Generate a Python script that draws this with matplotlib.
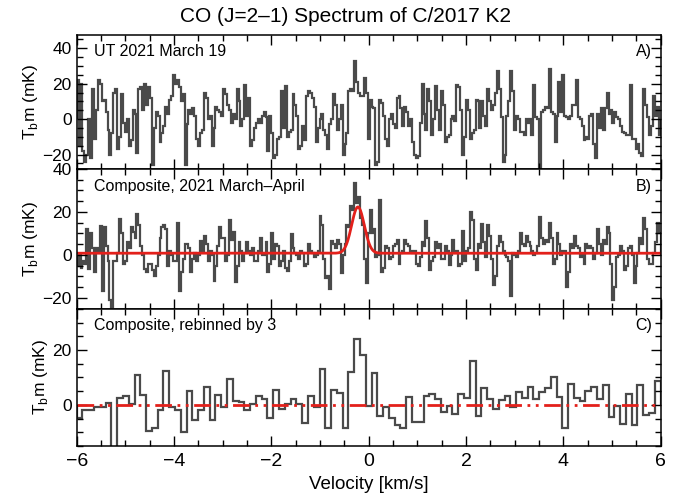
import numpy as np
import matplotlib
matplotlib.use("Agg")
import matplotlib.pyplot as plt
from matplotlib.ticker import MultipleLocator

plt.rcParams["font.family"] = ["Liberation Sans", "DejaVu Sans"]

# channel data (mK), channels evenly spaced over -6..6 km/s
march19 = [
    22, -15, 20, -18, -24, -20, 0, -22, 17, -11, 5, 22, 20, 10, 11, 4,
    -6, -20, -8, 15, 17, -17, -10, 14, -2, -7, 0, -15, -12, 5, 3, -19,
    17, 18, 5, 20, 8, 18, 12, -26, -5, 4, 2, -13, -8, -4, 7, 3,
    11, 13, 25, 20, 22, 18, 10, 14, -26, -3, 5, 3, 6, 2, -11, -15,
    -8, -6, 15, 12, 0, 2, -15, -5, 7, 5, 4, 2, 17, 14, 8, 5,
    -2, 3, 0, 17, 10, -4, 0, 19, 2, 12, -15, -12, -5, -2, 0, -2,
    2, 4, 1, -18,
    2, -8, -22, -20, -11, -10, 16, -5, 18.5, -10, -7, -6, 14, 8, 2, -17,
    -15, -4, -12, 13, 16, 15, 12, 7, -13, -5, 0, 3, -6, -9, -17, -3,
    0, 14, 8, -6, 0, 8, -20, -14, -8, 16, 17, 16, 33, 21, 15, 13,
    13, 23, 15, -11, 11, 7, 6, -26, -24, 11, 9, 2, -11, -15, 0, 3,
    -3, -5, 12, 13, 6, -4, 7, 4, -4, 0, -13, -20, -22, -21, -2, 20,
    3, -6, 17, 10, -9, 0, 18.5, 5, -6, 16, 8, -13, -10, -9, 0, 2,
    -1, 19, 18, 5, -20,
    -10, 11, 5, -11, -8, -6, 11, 10, -5, 10, 2, -4, 17, 10, 5, 8,
    15, 27, 17, 1, -24, -20, 2, 10, 27, 16, -6, 2, 0, -7, -7, -9,
    0, -2, 0, -9, 19, 1, 0, -28, 4, 5, 7, 6, 28, 4, 3, -13,
    2, 21, 4, 25, 2, 1, 0, 2, 8, 8, 22, 1, 0, -4, -12, -10,
    -11, 2, 3, -14, -22, 3, -5, 6, -6, 6, 15, 3, 5, -2, 4, 1,
    0, -4, -7, -8, -9, -9, 19, -11, -11, -17, -14, -19, -21, 17, 8, 1,
    -9, -4, 13, 2, 7, -9,
]

composite = [
    -5, 0, -6, -3, -4, 12, -6.5, 10, 3, -8, 3, 2, 13.6, -16.6, 13, 4,
    -3, -21, -24, -3, -3, 1, 16.7, 10, -4, -3, 6, 3, 13, 10.5, 8, 19,
    14, 4, 0, -6.5, -8, -4, -4, -7, -10, -5, 0, 8, 13, 14, 12, -5,
    2, 0, -3, -3, 15, -16.6, -8, -2, 5, 5, 3, -8, -2, 1, -3, 0,
    6.5, 2, 9, 5, -3, 2, 0, -12, -5, 4, 13, 8, 8, -3, 0, 16,
    7, 10.5, -12.7, -5, 6, 2, -3, 1, 6, 2, 0, 3, -3, -3, 2, 8,
    0, 0, 6, -8,
    -4, 10, -2, 5, 4, -5, -3, 2, -6, -7.6, -3, 9.5, 3, 1, 0, -2,
    2, 1, -5, -4, 5, 2, 1, -1, 0, 2, 18, 14, -2, -10.7, -10, -16,
    6.4, 5, 3, 7, 5, -8.5, 0, 5, 14, 13, 22.6, 21, 33.5, 24, 27, 17,
    14, -2, -13, 10, 21, 10, 12, -1, 0, 25.7, -8, -6, 4, 3, -2, -1,
    4, 5, 7, -4, 1, 2, 7, 5, 4, 2, 1, 2, -4, -5, -1, 6,
    4, 15.6, 8, -6.8, -3, -1, 6, 3, 5, -2, -2, 4, 2, -4.5, 0, 7,
    2, 2, -5, -4,
    11, -3, 2, 3, 20, 16, -2, -7, 5, 3, 14.5, 6, -1, 14, 9, -2,
    -14, -10, 4, 9, 6, 2, 0, -1, -3, -19, 1, 0, -1, 2, 10, 5,
    4, 9, 6, 4, 2, 0, 1, 4, 17.7, 8, 5, 7, 6, 15, 8, -4,
    -2, 10, 5, 0, 2, 2, -15, -8, 5, 3, 9, 4, 3, -1, 0, -4,
    5, 3, 4, 3, -2, 1, 12, 5, 0, 7, 5, 13, 10, -4, -21, -15,
    -1, 0, 4, 2, -7, -5, 3, 4, 0, -13, -5, 1, 8, 5, 17, 12,
    -2, -4, -4, 1, 6, 15, 10,
]

rebinned = [
    -4.8, -1.8, -1.8, -0.8, -0.8, 0.6, -20, 2.4, 3.3, 0.4, 10.8, 3.6, -9.3, -8.4, -1.8, 12.4,
    -0.8, -1.8, -10, 5, -5.4, -2, 6.4, -5.4, 3.6, -0.8, 9.6, 1.6, 1.2, -1.8, 0.4, 3.3,
    2.0, -4.8, 5.6, -1.3, 0.4, 2.0, 0.4, -6.6, 3.2, -0.7, 13.2, -8.4, 5.4, 4.4, -8.2, 12,
    24, 18, -0.3, 11.7, -4, -0.7, -4.8, -7.2, -8.4, 3, -6.3, -6.3, 3.4, 4, 2, -2.7,
    -0.3, -3.2, 4.1, 2.4, 16, -4.1, 6.2, 2, -1.5, 1.7, 3.2, -0.7, 4.6, 2.4, 6.6, 2,
    4.6, 6.2, 10, 3, -8.2, 7.8, 2.6, 1.3, 5, 6.6, 2, 7.4, -4.4, -0.5, -6.8, 4.1,
    -7.2, 7.4, -3.5, -2.9, 8.7,
]

# gaussian fit shown in panel B
fit_amp = 21.5      # mK
fit_v0 = -0.22      # km/s
fit_sigma = 0.13    # km/s
fit_base = 0.8      # mK

GREY = "#4a4a4a"
RED = "#e3201b"


def style_axis(ax, ylim, ymajor, bottom=False):
    ax.set_xlim(-6, 6)
    ax.set_ylim(*ylim)
    ax.xaxis.set_major_locator(MultipleLocator(2))
    ax.xaxis.set_minor_locator(MultipleLocator(0.5))
    ax.yaxis.set_major_locator(MultipleLocator(ymajor))
    ax.yaxis.set_minor_locator(MultipleLocator(5))
    ax.tick_params(which="both", direction="in", top=True, right=True, width=1)
    ax.tick_params(axis="y", labelsize=12.5)
    ax.tick_params(axis="x", labelsize=14, pad=5)
    ax.tick_params(which="major", length=7)
    ax.tick_params(which="minor", length=4)
    if not bottom:
        ax.tick_params(labelbottom=False)
    for s in ax.spines.values():
        s.set_linewidth(1.1)
    ax.set_ylabel(r"T$_\mathregular{b}$m (mK)", fontsize=12.5, labelpad=2)


fig = plt.figure(figsize=(6.91, 4.98), dpi=100)
axA = fig.add_axes([0.111, 0.661, 0.845, 0.269])
axB = fig.add_axes([0.111, 0.380, 0.845, 0.281])
axC = fig.add_axes([0.111, 0.104, 0.845, 0.276])

edges_a = np.linspace(-6, 6, len(march19) + 1)
edges_b = np.linspace(-6, 6, len(composite) + 1)
edges_c = np.linspace(-6, 6, len(rebinned) + 1)

axA.stairs(march19, edges_a, color=GREY, lw=1.6)
style_axis(axA, (-28, 47.5), 20)
axA.text(0.03, 0.93, "UT 2021 March 19", transform=axA.transAxes,
         fontsize=11.5, va="top")
axA.text(0.985, 0.93, "A)", transform=axA.transAxes, fontsize=11.5,
         va="top", ha="right")

axB.stairs(composite, edges_b, color=GREY, lw=1.6)
vfit = np.linspace(-6, 6, 1200)
axB.plot(vfit, fit_base + fit_amp * np.exp(-0.5 * ((vfit - fit_v0) / fit_sigma) ** 2),
         color=RED, lw=2)
style_axis(axB, (-25, 40), 20)
axB.text(0.03, 0.93, "Composite, 2021 March\u2013April", transform=axB.transAxes,
         fontsize=11.5, va="top")
axB.text(0.985, 0.93, "B)", transform=axB.transAxes, fontsize=11.5,
         va="top", ha="right")

axC.stairs(rebinned, edges_c, color=GREY, lw=1.6)
axC.axhline(0, color=RED, lw=2, ls=(0, (6, 2, 1, 2, 1, 2)))
style_axis(axC, (-15, 35), 20, bottom=True)
axC.text(0.03, 0.93, "Composite, rebinned by 3", transform=axC.transAxes,
         fontsize=11.5, va="top")
axC.text(0.985, 0.93, "C)", transform=axC.transAxes, fontsize=11.5,
         va="top", ha="right")
axC.set_xlabel("Velocity [km/s]", fontsize=13.5, labelpad=4)

fig.suptitle("CO (J=2\u20131) Spectrum of C/2017 K2", fontsize=15, y=0.985)

fig.savefig("out.png", dpi=100)
